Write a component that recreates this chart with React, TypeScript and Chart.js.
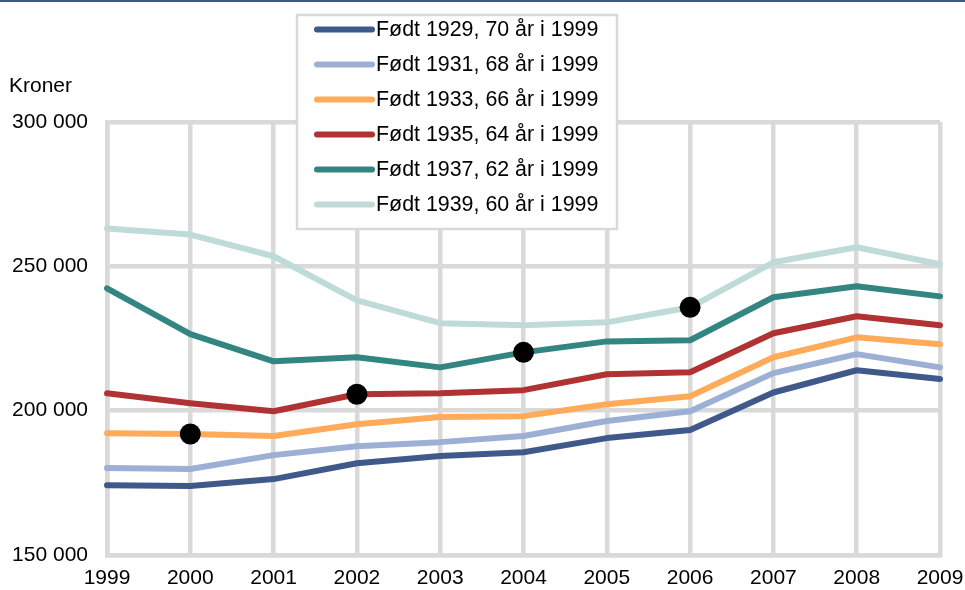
import React, { useEffect, useRef } from "react";
import { Chart, registerables } from "chart.js";

Chart.register(...registerables);

const years = ["1999", "2000", "2001", "2002", "2003", "2004", "2005", "2006", "2007", "2008", "2009"];

const born1929 = [174200, 173900, 176300, 181800, 184300, 185600, 190500, 193300, 206300, 214000, 211000];
const born1931 = [180100, 179800, 184600, 187700, 189100, 191200, 196400, 199800, 213000, 219600, 215000];
const born1933 = [192200, 191900, 191200, 195300, 197800, 198100, 202200, 205000, 218500, 225400, 223000];
const born1935 = [206000, 202600, 199800, 205700, 206000, 207100, 212600, 213300, 226800, 232700, 229600];
const born1937 = [242400, 226500, 217100, 218500, 215000, 220200, 224000, 224400, 239300, 243100, 239600];
const born1939 = [263100, 261000, 253500, 238200, 230300, 229600, 230600, 235800, 251400, 256600, 250700];

// Black markers (age 67 for each cohort)
const markers = [null, 191900, null, 205700, null, 220200, null, 235800, null, null, null];

const seriesLabels = [
  "Født 1929, 70 år i 1999",
  "Født 1931, 68 år i 1999",
  "Født 1933, 66 år i 1999",
  "Født 1935, 64 år i 1999",
  "Født 1937, 62 år i 1999",
  "Født 1939, 60 år i 1999",
];
const seriesColors = ["#3f5a8a", "#9cb0d6", "#ffab59", "#b03232", "#328581", "#bfdbd8"];
const seriesData = [born1929, born1931, born1933, born1935, born1937, born1939];

const yMin = 150000;
const yMax = 300000;
const yStep = 50000;
const yTitle = "Kroner";

const FONT = "'Liberation Sans', Arial, sans-serif";

const overlayPlugin = {
  id: "overlay",
  afterDraw(chart: any) {
    const ctx = chart.ctx;
    ctx.save();
    // top rule
    ctx.fillStyle = "#3f5a8a";
    ctx.fillRect(0, 0, chart.width, 2);
    // axis title
    ctx.fillStyle = "#000";
    ctx.font = `21px ${FONT}`;
    ctx.textBaseline = "middle";
    ctx.textAlign = "left";
    ctx.fillText(yTitle, 9, 86);
    // legend box
    const bx = 297, by = 15, bw = 320, bh = 214;
    ctx.fillStyle = "#ffffff";
    ctx.fillRect(bx, by, bw, bh);
    ctx.strokeStyle = "#d9d9d9";
    ctx.lineWidth = 2.5;
    ctx.strokeRect(bx, by, bw, bh);
    seriesLabels.forEach((label, i) => {
      const y = 29.5 + i * 35;
      ctx.strokeStyle = seriesColors[i];
      ctx.lineWidth = 6;
      ctx.lineCap = "round";
      ctx.beginPath();
      ctx.moveTo(317, y);
      ctx.lineTo(372, y);
      ctx.stroke();
      ctx.fillStyle = "#000";
      ctx.font = `21.4px ${FONT}`;
      ctx.textBaseline = "middle";
      ctx.fillText(label, 376, y + 1);
    });
    ctx.restore();
  },
};

export default function App() {
  const ref = useRef<HTMLCanvasElement | null>(null);

  useEffect(() => {
    document.body.style.margin = "0";
    const canvas = ref.current;
    if (!canvas) return;
    const datasets: any[] = seriesData.map((d, i) => ({
      label: seriesLabels[i],
      data: d,
      borderColor: seriesColors[i],
      backgroundColor: seriesColors[i],
      borderWidth: 6,
      pointRadius: 0,
      tension: 0,
      fill: false,
      borderJoinStyle: "round",
      borderCapStyle: "round",
      order: 1,
    }));
    datasets.push({
      label: "markers",
      data: markers,
      showLine: false,
      pointRadius: 10.5,
      pointBackgroundColor: "#000",
      pointBorderColor: "#000",
      pointBorderWidth: 0,
      borderColor: "#000",
      backgroundColor: "#000",
      order: -1,
    });
    const chart = new Chart(canvas, {
      type: "line",
      data: { labels: years, datasets },
      options: {
        responsive: false,
        animation: false,
        devicePixelRatio: 1,
        layout: { padding: { top: 122, right: 25, bottom: 0, left: 0 } },
        plugins: { legend: { display: false }, tooltip: { enabled: false }, title: { display: false } },
        scales: {
          x: {
            type: "category",
            offset: false,
            grid: { color: "#d9d9d9", lineWidth: 4.5, drawTicks: false, offset: false },
            border: { display: true, color: "#d9d9d9", width: 4.5 },
            ticks: {
              color: "#000",
              font: { family: FONT, size: 21 },
              padding: 11,
              maxRotation: 0,
              autoSkip: false,
            },
            afterFit(scale: any) {
              scale.height = 35;
              scale.paddingLeft = 0;
              scale.paddingRight = 0;
            },
          },
          y: {
            min: yMin,
            max: yMax,
            grid: { color: "#d9d9d9", lineWidth: 4.5, drawTicks: false },
            border: { display: true, color: "#d9d9d9", width: 4.5 },
            ticks: {
              stepSize: yStep,
              color: "#000",
              font: { family: FONT, size: 21 },
              padding: 19,
              callback: (v: any) => Number(v).toLocaleString("en-US").replace(/,/g, " "),
            },
            afterFit(scale: any) {
              scale.width = 107;
              scale.paddingTop = 0;
              scale.paddingBottom = 0;
            },
          },
        },
      },
      plugins: [overlayPlugin],
    });
    return () => chart.destroy();
  }, []);

  return (
    <div style={{ position: "fixed", left: 0, top: 0, width: 965, height: 590, background: "#fff" }}>
      <canvas ref={ref} width={965} height={590} style={{ display: "block" }} />
    </div>
  );
}
